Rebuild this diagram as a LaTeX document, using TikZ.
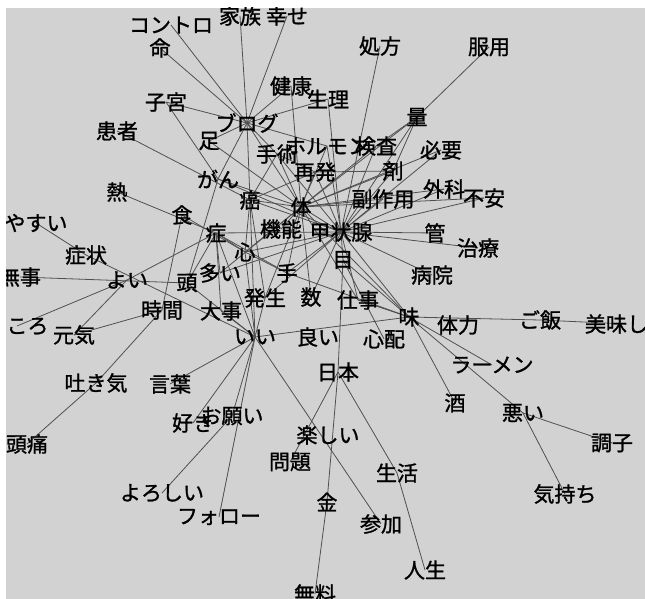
\documentclass[tikz,border=0pt]{standalone}
\usepackage{fontspec}
\newfontfamily\jp[FakeBold=1.2]{Noto Sans CJK JP}
\definecolor{bgc}{RGB}{210,210,210}
\definecolor{edgec}{RGB}{80,80,80}
\pgfdeclarelayer{bgl}
\pgfdeclarelayer{edl}
\pgfsetlayers{bgl,edl,main}
\begin{document}
\begin{tikzpicture}[x=1pt,y=-1pt,
  w/.style={font=\jp\fontsize{21}{21}\selectfont, inner sep=0pt, text=black},
  e/.style={draw=edgec, line width=0.8pt}]
\useasboundingbox (0,0) rectangle (645,599);
\begin{pgfonlayer}{bgl}
\fill[white] (0,0) rectangle (645,599);
\fill[bgc] (6,8) rectangle (645,599);
\end{pgfonlayer}
\begin{scope}
\clip (6,8) rectangle (645,599);
\node[w] (kontoro) at (171,25) {コントロ};
\node[w] (kazoku) at (240,16) {家族};
\node[w] (shiawase) at (287,16) {幸せ};
\node[w] (inochi) at (160,48) {命};
\node[w] (shohou) at (380,46) {処方};
\node[w] (fukuyou) at (489,47) {服用};
\node[w] (kenkou) at (291,86) {健康};
\node[w] (seiri) at (328,99) {生理};
\node[w] (shikyu) at (166,102) {子宮};
\node[w] (ryou) at (417,117) {量};
\node[w] (blog) at (247,123) {ブログ};
\node[w] (kanja) at (117,131) {患者};
\node[w] (ashi) at (209,141) {足};
\node[w] (shujutsu) at (277,154) {手術};
\node[w] (horumon) at (327,146) {ホルモン};
\node[w] (kensa) at (376,146) {検査};
\node[w] (hitsuyou) at (441,150) {必要};
\node[w] (saihatsu) at (315,172) {再発};
\node[w] (zai) at (393,171) {剤};
\node[w] (gan) at (218,179) {がん};
\node[w] (netsu) at (117,192) {熱};
\node[w] (ganK) at (250,200) {癌};
\node[w] (geka) at (444,189) {外科};
\node[w] (fuan) at (484,198) {不安};
\node[w] (fukusayou) at (383,199) {副作用};
\node[w] (karada) at (301,207) {体};
\node[w] (shoku) at (182,215) {食};
\node[w] (yasui) at (36,223) {やすい};
\node[w] (kinou) at (281,229) {機能};
\node[w] (koujousen) at (341,232) {甲状腺};
\node[w] (shou) at (216,233) {症};
\node[w] (kan) at (435,233) {管};
\node[w] (chiryou) at (478,248) {治療};
\node[w] (kokoro) at (245,252) {心};
\node[w] (shoujou) at (86,255) {症状};
\node[w] (me) at (343,260) {目};
\node[w] (byouin) at (432,275) {病院};
\node[w] (ooi) at (220,273) {多い};
\node[w] (te) at (287,273) {手};
\node[w] (buji) at (20,277) {無事};
\node[w] (yoi) at (127,280) {よい};
\node[w] (atama) at (187,283) {頭};
\node[w] (hassei) at (265,298) {発生};
\node[w] (kazu) at (311,297) {数};
\node[w] (shigoto) at (358,300) {仕事};
\node[w] (jikan) at (162,310) {時間};
\node[w] (daiji) at (221,311) {大事};
\node[w] (aji) at (409,317) {味};
\node[w] (gohan) at (540,320) {ご飯};
\node[w] (oishii) at (627,324) {美味しい};
\node[w] (tairyoku) at (458,325) {体力};
\node[w] (tokoro) at (17,326) {ところ};
\node[w] (genki) at (74,335) {元気};
\node[w] (ii) at (255,337) {いい};
\node[w] (yoi2) at (318,337) {良い};
\node[w] (shinpai) at (384,339) {心配};
\node[w] (ramen) at (492,365) {ラーメン};
\node[w] (nihon) at (338,372) {日本};
\node[w] (hakike) at (96,383) {吐き気};
\node[w] (kotoba) at (170,384) {言葉};
\node[w] (sake) at (455,403) {酒};
\node[w] (warui) at (523,413) {悪い};
\node[w] (onegai) at (232,416) {お願い};
\node[w] (suki) at (193,423) {好き};
\node[w] (tanoshii) at (328,435) {楽しい};
\node[w] (choushi) at (612,443) {調子};
\node[w] (zutsuu) at (27,444) {頭痛};
\node[w] (mondai) at (290,462) {問題};
\node[w] (seikatsu) at (397,473) {生活};
\node[w] (kimochi) at (565,494) {気持ち};
\node[w] (yoroshii) at (162,493) {よろしい};
\node[w] (kin) at (327,502) {金};
\node[w] (follow) at (219,517) {フォロー};
\node[w] (sanka) at (381,524) {参加};
\node[w] (jinsei) at (425,570) {人生};
\node[w] (muryou) at (315,594) {無料};
\end{scope}
\begin{pgfonlayer}{edl}
\foreach \a/\b in {blog/inochi, blog/kontoro, blog/kazoku, blog/shiawase, blog/shikyu,
  blog/kenkou, blog/seiri, blog/shujutsu, blog/ganK, blog/gan, blog/karada, blog/ashi,
  blog/horumon, shikyu/gan, kanja/ganK, netsu/shou, yasui/shoujou, shoujou/ii,
  buji/atama, yoi/shou, yoi/genki, tokoro/yoi, genki/jikan, hakike/jikan, zutsuu/hakike,
  shoku/jikan, shoku/kokoro, shou/koujousen, shou/kokoro, shou/te, shou/atama, shou/ii,
  shou/ooi, ganK/karada, ganK/koujousen, ganK/hassei, ganK/ii, ganK/kokoro,
  ganK/shujutsu, ganK/saihatsu, gan/karada, gan/koujousen, gan/atama, ashi/karada,
  kenkou/karada, seiri/koujousen, shohou/koujousen, fukuyou/ryou, ryou/zai, ryou/kensa,
  ryou/karada, ryou/koujousen, hitsuyou/koujousen, hitsuyou/karada, geka/karada,
  geka/koujousen, fuan/koujousen, fuan/karada, fukusayou/karada, fukusayou/koujousen,
  zai/karada, zai/saihatsu, zai/koujousen, kensa/karada, kensa/koujousen,
  horumon/karada, horumon/koujousen, saihatsu/karada, saihatsu/koujousen,
  saihatsu/shujutsu, shujutsu/karada, shujutsu/koujousen, karada/koujousen,
  karada/kinou, koujousen/kan, koujousen/chiryou, koujousen/byouin, koujousen/me,
  kokoro/te, kokoro/koujousen, kokoro/ii, kokoro/karada, ooi/koujousen, ooi/karada,
  atama/ii, te/aji, te/karada, te/koujousen, hassei/karada, hassei/koujousen,
  hassei/ii, kazu/karada, kazu/koujousen, shigoto/koujousen, shigoto/aji,
  shigoto/karada, me/nihon, me/aji, me/shinpai, koujousen/aji, karada/aji,
  daiji/ii, daiji/shou, ii/kotoba, ii/suki, ii/onegai, ii/follow, ii/sanka, ii/aji,
  onegai/yoroshii, nihon/mondai, nihon/kin, nihon/seikatsu, kin/muryou,
  seikatsu/jinsei, aji/sake, aji/warui, aji/ramen, aji/gohan, gohan/oishii,
  warui/choushi, warui/kimochi}
  \draw[e] (\a.center) -- (\b.center);
\end{pgfonlayer}
\end{tikzpicture}
\end{document}
